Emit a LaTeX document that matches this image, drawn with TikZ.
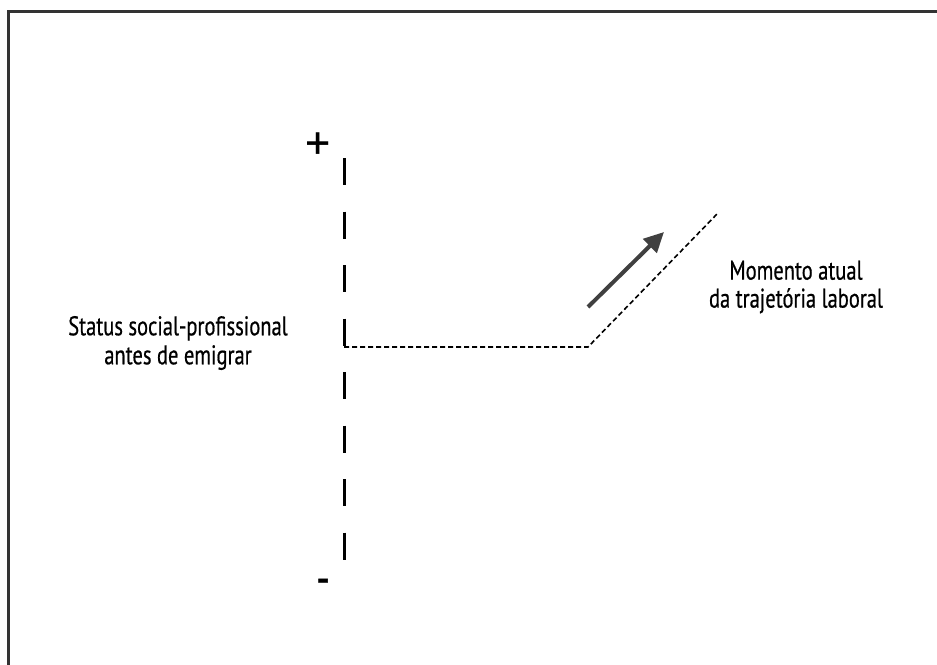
\documentclass[tikz,border=0pt]{standalone}
\usepackage{fontspec}
\setmainfont{PT Sans}[FakeStretch=0.76,FakeBold=0.6]
\newfontfamily\signfont{PT Sans}
\usepackage{xcolor}
\usetikzlibrary{positioning}
\usetikzlibrary{calc,arrows.meta}

\begin{document}
\begin{tikzpicture}[x=1pt,y=-1pt]
		\useasboundingbox (0,0) rectangle (937,664);
		\clip (0,0) rectangle (937,664);
		\coordinate(A) at (344,158);
		\coordinate(B) at (344,560);
		\coordinate(C) at (344,347);
		\coordinate(D) at (588,347);
		\coordinate(E) at (718,213);
		\coordinate(F) at (588,307);
		\coordinate(G) at (664,232);
		
		% Draw frame
		\draw [line width=3pt, black!80] (8,11) rectangle (960,700);
		
		% Draw scale and path
		\draw [line width=3pt, dash pattern=on 27pt off 26.5pt] (A) -- (B);
		\draw [line width=1.6pt, dash pattern=on 5pt off 3pt] (C) -- (D) -- (E);
		\draw [line width=4pt, black!75, -{Triangle[length=20pt,width=19pt]}] (F) -- (G);
		
		\node (P) [font=\signfont\fontsize{50}{50}\selectfont, inner sep=0pt] at (318,147) {+};
		\node (M) [font=\fontsize{50}{50}\selectfont, inner sep=0pt] at (323,587) {-};
		\node (S) [font=\fontsize{27}{29}\selectfont, align=center, inner sep=0pt] at (178,343) {Status social-profissional\\antes de emigrar};
		\node (T) [font=\fontsize{27}{28}\selectfont, align=center, inner sep=0pt] at (796,287) {Momento atual\\da trajetória laboral};
	\end{tikzpicture}
\end{document}
